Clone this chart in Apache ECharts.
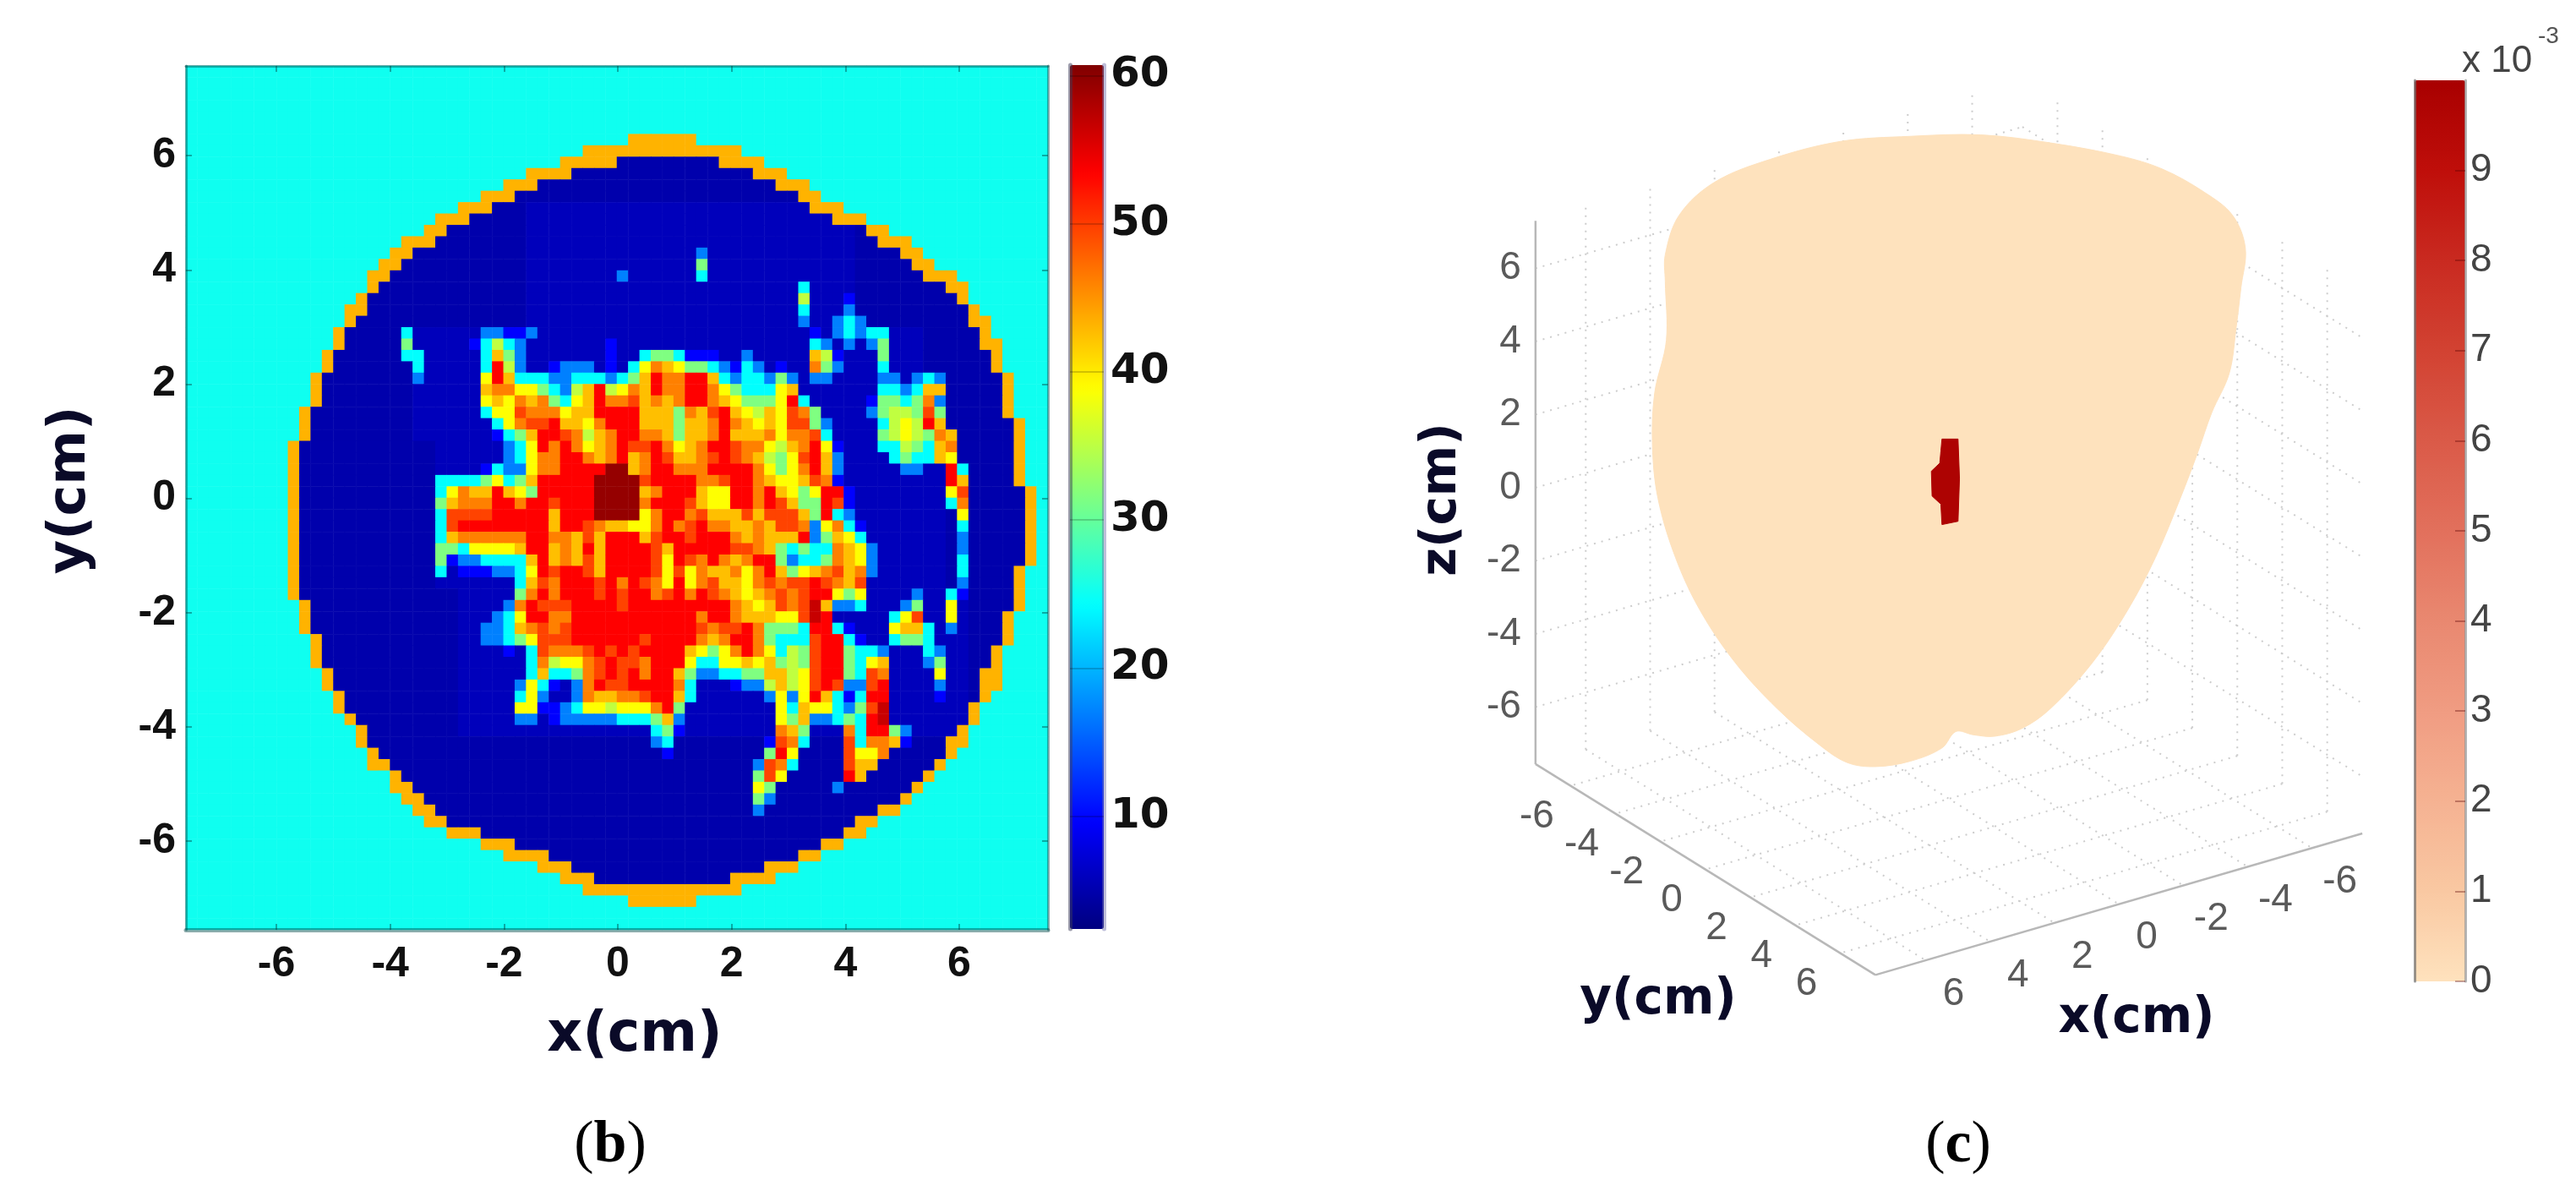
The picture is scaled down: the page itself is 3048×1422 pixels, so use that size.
<!DOCTYPE html>
<html>
<head>
<meta charset="utf-8">
<style>html,body{margin:0;padding:0;background:#fff}#c{width:3048px;height:1422px}</style>
<script src="https://cdn.jsdelivr.net/npm/echarts@6/dist/echarts.min.js"></script>
</head>
<body>
<div id="c"></div>
<script>
// ---------- panel (b): heat map ----------
const colCount = 76, rowCount = 76;
const levels = {'C':25.1,'A':43.2,'.':4.9,',':5.8,'b':9.7,'l':17,'c':24.3,'g':31.5,'n':35.2,'y':38.8,'a':42.5,'o':46.1,'f':49.6,'r':53.4,'k':56.6,'D':59.5};
// [row, fromCol, toCol, fromCol, toCol]: orange rim of the disc on each row
const ringRows = [[6,39,44],[7,35,48],[8,33,37,47,50],[9,30,33,50,52],[10,28,30,52,54],[11,26,28,54,55],[12,24,26,55,57],[13,22,24,57,59],[14,21,22,60,61],[15,19,21,61,63],[16,18,19,63,64],[17,17,18,64,65],[18,16,17,65,67],[19,16,16,67,68],[20,15,15,68,68],[21,14,15,69,69],[22,14,14,69,70],[23,13,13,70,70],[24,13,13,70,71],[25,12,12,71,71],[26,12,12,71,71],[27,11,11,72,72],[28,11,11,72,72],[29,11,11,72,72],[30,10,10,72,72],[31,10,10,73,73],[32,10,10,73,73],[33,9,9,73,73],[34,9,9,73,73],[35,9,9,73,73],[36,9,9,73,73],[37,9,9,74,74],[38,9,9,74,74],[39,9,9,74,74],[40,9,9,74,74],[41,9,9,74,74],[42,9,9,74,74],[43,9,9,74,74],[44,9,9,73,73],[45,9,9,73,73],[46,9,9,73,73],[47,10,10,73,73],[48,10,10,72,72],[49,10,10,72,72],[50,11,11,72,72],[51,11,11,71,71],[52,11,11,71,71],[53,12,12,70,71],[54,12,12,70,71],[55,13,13,70,70],[56,13,13,69,69],[57,14,14,69,69],[58,15,15,68,68],[59,15,15,67,68],[60,16,16,67,67],[61,16,17,66,66],[62,18,18,65,65],[63,18,19,64,64],[64,19,20,63,63],[65,20,21,61,62],[66,21,22,59,60],[67,23,25,58,59],[68,26,28,56,57],[69,28,31,54,55],[70,31,33,51,53],[71,33,35,48,51],[72,35,48],[73,39,44]];
// [fromRow, toRow, fromCol, toCol]: slightly brighter blue in the middle of the disc
const glowBands = [[12,22,30,58],[23,32,20,64],[33,45,22,66],[46,58,24,68]];
// row: [[startCol, cells], ...]
const hotRows = {
16:[[45,"l"]],
17:[[45,"g"]],
18:[[38,"l"],[45,"c"]],
19:[[54,"c"]],
20:[[54,"n"],[58,"b"]],
21:[[54,"c"],[58,"l"]],
22:[[54,"l"],[57,"lcl"]],
23:[[19,"c"],[26,"llbbl"],[55,"b"],[57,"lclcc"]],
24:[[19,"g"],[25,"bcncl"],[37,"b"],[55,"cl"],[58,"l"],[60,"lg"]],
25:[[19,"cc"],[26,"cagl"],[37,"b"],[40,"cggcbbb"],[49,"l"],[55,"anb"],[61,"g"]],
26:[[20,"c"],[26,"crnl"],[32,"blll"],[37,"b"],[39,"cyoay"],[44,"ggclbcl"],[52,"b"],[55,"ogl"],[61,"c"]],
27:[[20,"l"],[26,"yracccllcccl"],[38,"cgaroo"],[44,"rraclcclgl"],[55,"ll"],[61,"ll"],[64,"lcl"]],
28:[[26,"aooyygclnarnyoaroo"],[44,"rroygcccya"],[61,"ccl"],[64,"caa"]],
29:[[26,"yayoaogcyaroofaoao"],[44,"rroaygggyrc"],[60,"bggcgol"]],
30:[[26,"cyyfoooyaarrrraaag"],[44,"oafraynayfog"],[60,"lgnngfg"]],
31:[[26,",cyoffraayorrraaag"],[44,"aaoroayayffgl"],[61,"cnynra"]],
32:[[27,"bcgarrfonaorrooag"],[44,"aaoraaaoyoofc"],[61,"gnyngoa"]],
33:[[28,"lcyroroyaorffroy"],[44,"aorrfooynaoryb"],[61,"ccngcao"]],
34:[[28,"lcyoorroaoraorfa"],[44,"aofrfoangyfral"],[62,"cgc"],[65,"cay"]],
35:[[26,"bcllyoorrrrDDaorro"],[44,"oorrrroygyoral"],[63,"ll"],[67,"rc"]],
36:[[22,"ccccgycgarrrrrDDDDfrrr"],[44,"roofrroayyafob"],[67,"ra"]],
37:[[22,"cyoaaraygrrrrrDDDDaorr"],[44,"rayyrroraygyrrb"],[67,"yf"]],
38:[[22,"gaooorrorrfrrrDDDDorrr"],[44,"fayyrrorfaggrfb"],[67,"co"]],
39:[[22,"cffffrrrrrarrrDDDDyorr"],[44,"ofaaafafffagrcl"],[68,"y"]],
40:[[22,"cfrrrrrrrrarrfoaayyoro"],[44,"frooaaoaffolyocb"],[68,"c"]],
41:[[22,"caoooooorrooafarrrafrr"],[44,"frrroaoaaarlgayc"],[68,"l"]],
42:[[22,"ggcyyyyarraoararrrrfar"],[44,"rrrrffoagcgccoayl"],[68,"l"]],
43:[[22,"gbllccccaraoafarrrrfyr"],[44,"foroaorrglccgoayl"],[68,"c"]],
44:[[22,"c,bbbllcyrfrrfarrrrfyf"],[44,"yoaaoyoragyaofaol"],[68,"c"]],
45:[[29,"caforrrfrorfoyr"],[44,"yofaayofoffrfoaf"],[68,"l"]],
46:[[29,"gororrrfrfrrofr"],[44,"orfoayaofofrrygy"],[64,"l"],[67,"cb"]],
47:[[28,"lorfffrrrrfrrrrr"],[44,"rrrroayafofkallc"],[63,"lg"],[67,"y"]],
48:[[27,"lcyrroorrrrrrrrrr"],[44,"rorroaaayyfkr"],[62,"cyf"],[67,"y"]],
49:[[26,"llcaofofrrrrrrrrrr"],[44,"rfoffrogggcrrcb"],[62,"yaac"],[67,"l"]],
50:[[26,"llcgyfffrrrrrrfrrr"],[44,"roaorrogcccfrrcb"],[62,"cggc"]],
51:[[28,"b,cfooofrfrfrrrr"],[44,"aygyoroycngfrrgccl"],[65,"cl"]],
52:[[30,"conyyofrfforrr"],[44,"yccyyayagngfrrgcya"],[65,"lg"]],
53:[[30,"caccgofrfrorra"],[44,"gllccggaanyfrrgcfo"],[66,"y"]],
54:[[29,"lycb,lorffrrrro"],[44,"c,,,bllnanyfrfllfr"],[66,"l"]],
55:[[29,"cyl,,loaaoofrra"],[44,"c,,,,,,lylyracbcrr"],[66,"b"]],
56:[[29,"yybblcyynyyyorg"],[52,"ycayyclgfk"]],
57:[[29,"ll,blllllcccgal"],[52,"ygallcgcrk"]],
58:[[41,"cgb"],[52,"oag"],[58,"ocrrgl"]],
59:[[41,"lc"],[51,"bfoc"],[58,"fcooab"]],
60:[[42,"b"],[51,"gry"],[58,"fyyo"]],
61:[[50,"lfoc"],[58,"faa"]],
62:[[50,"gfy"],[58,"ra"]],
63:[[50,"yg"],[57,"l"]],
64:[[50,"gl"]],
65:[[50,"l"]]
};
const tickCm = [-6,-4,-2,0,2,4,6];
const heatRange = [2.4, 60.7];
const heatBarTicks = [10,20,30,40,50,60];
const jetColors = ['#000080','#0000ff','#0080ff','#00ffff','#80ff80','#ffff00','#ff8000','#ff0000','#800000'];

// ---------- panel (c): silhouette as seen in the view plane (cm) ----------
const bodyU = [0.86,2.78,4.70,5.85,6.99,7.76,8.11,7.99,7.86,7.67,7.19,6.81,6.33,5.65,4.89,3.93,2.78,2.01,1.25,0.67,0.19,-0.19,-1.05,-2.01,-2.78,-3.55,-4.70,-5.85,-6.81,-7.48,-7.96,-8.11,-8.05,-7.73,-7.76,-7.76,-7.38,-6.42,-4.89,-2.97,-1.06];
const bodyV = [10.60,10.38,10.02,9.66,9.03,8.40,7.50,6.42,5.34,4.08,3.00,1.92,0.66,-0.96,-2.40,-3.83,-5.09,-5.63,-5.85,-5.81,-5.72,-6.17,-6.53,-6.68,-6.57,-6.08,-5.09,-3.83,-2.40,-0.96,0.66,2.10,3.54,4.98,6.60,7.32,8.40,9.30,9.93,10.42,10.56];
const spotU = [-0.19,0.25,0.29,0.25,-0.19,-0.22,-0.46,-0.48,-0.25,-0.22];
const spotV = [2.28,2.28,1.20,0.03,-0.06,0.50,0.72,1.40,1.62,1.95];
const shapeValues = [0, 9.8];
const boxMin = -7.56, boxMax = 7.56, boxTop = 7.3;
const doseTicks = [0,1,2,3,4,5,6,7,8,9];
const doseColors = ['#FEE2BD','#F9C8A2','#F5B292','#F09C82','#E98870','#E2705C','#DA5A48','#D24232','#C92A20','#BF0E0A','#A80000'];

// ---------- build heat map cells ----------
const cells = [];
for (let r = 0; r < rowCount; r++) cells.push(new Array(colCount).fill('C'));
ringRows.forEach(s => {
  const r = s[0];
  for (let c = s[1]; c <= s[2]; c++) cells[r][c] = 'A';
  if (s.length > 3) {
    for (let c = s[2] + 1; c < s[3]; c++) cells[r][c] = '.';
    for (let c = s[3]; c <= s[4]; c++) cells[r][c] = 'A';
  }
});
glowBands.forEach(b => {
  for (let r = b[0]; r <= b[1]; r++) for (let c = b[2]; c <= b[3]; c++) if (cells[r][c] === '.') cells[r][c] = ',';
});
Object.keys(hotRows).forEach(k => {
  hotRows[k].forEach(seg => {
    for (let i = 0; i < seg[1].length; i++) cells[+k][seg[0] + i] = seg[1][i];
  });
});
const heatData = [];
cells.forEach((row, r) => row.forEach((ch, c) => heatData.push([c, r, levels[ch]])));
const catX = Array.from({length: colCount}, (_, i) => i);
const catY = Array.from({length: rowCount}, (_, i) => i);

// ---------- view projection for the 3D box ----------
const project = (x, y, z) => [-0.881 * x + 0.615 * y, z - 0.256 * x - 0.3815 * y];
const gridLines3d = [];
tickCm.forEach(t => {
  gridLines3d.push([t, boxMin, boxMin, t, boxMax, boxMin]);   // floor, constant x
  gridLines3d.push([boxMin, t, boxMin, boxMax, t, boxMin]);   // floor, constant y
  gridLines3d.push([t, boxMin, boxMin, t, boxMin, boxTop]);   // wall y=min, vertical
  gridLines3d.push([boxMin, t, boxMin, boxMin, t, boxTop]);   // wall x=min, vertical
  gridLines3d.push([boxMax, boxMin, t, boxMin, boxMin, t]);   // wall y=min, horizontal
  gridLines3d.push([boxMin, boxMin, t, boxMin, boxMax, t]);   // wall x=min, horizontal
});
const edgeLines3d = [
  [boxMax, boxMin, boxMin, boxMax, boxMax, boxMin],
  [boxMax, boxMax, boxMin, boxMin, boxMax, boxMin],
  [boxMax, boxMin, boxMin, boxMax, boxMin, boxTop]
];
const lineItem = (style) => (params, api) => {
  const a = api.coord(project(api.value(0), api.value(1), api.value(2)));
  const b = api.coord(project(api.value(3), api.value(4), api.value(5)));
  return {type:'line', shape:{x1:a[0], y1:a[1], x2:b[0], y2:b[1]}, style};
};
const tickLabels3d = [];
tickCm.forEach(t => {
  tickLabels3d.push([boxMax, boxMin, t, t, -17, 0, 'right']);
  tickLabels3d.push([boxMax, t, boxMin, t, -40, 37, 'center']);
  tickLabels3d.push([t, boxMax, boxMin, t, 33, 40, 'center']);
});
const grid3dAxis = {gridIndex:3, type:'value', show:false};

const labelText = (text, x, y, size, rotation) => ({
  type:'text', x, y, rotation: rotation || 0, z: 20,
  style:{text, font:'bold ' + size + 'px "DejaVu Sans"', fill:'#0a0a28', align:'center', verticalAlign:'middle',
         shadowColor:'#e07800', shadowOffsetX:-2, shadowOffsetY:0, shadowBlur:1}
});
const panelLetter = (letter, x, y) => ({
  type:'text', x, y, z:20,
  style:{text:'{p|(}{b|' + letter + '}{p|)}', align:'center', verticalAlign:'middle',
    rich:{p:{font:'70px "Liberation Serif"', fill:'#000'}, b:{font:'bold 70px "Liberation Serif"', fill:'#000'}}}
});
const plotEdge = 'rgba(0,70,70,0.45)';
const tickEdge = {show:true, inside:true, length:7, lineStyle:{color:plotEdge, width:2}, customValues:tickCm};
const boldTick = {fontFamily:'"Liberation Sans"', fontWeight:'bold', fontSize:50, color:'#111'};

const option = {
  animation:false,
  backgroundColor:'#ffffff',
  grid:[
    {left:220, top:78, width:1020, height:1022},
    {left:220, top:78, width:1020, height:1022},
    {left:1266, top:77, width:40, height:1022},
    {left:1700.5, top:99, width:1211, height:1081.25},
    {left:2857, top:95, width:60, height:1066}
  ],
  xAxis:[
    {gridIndex:0, type:'category', data:catX, show:false},
    {gridIndex:1, type:'value', min:-7.59, max:7.56, position:'bottom', z:10,
      splitLine:{show:false}, axisLine:{show:true, onZero:false, lineStyle:{color:plotEdge, width:5}},
      axisTick:tickEdge, axisLabel:Object.assign({margin:16, customValues:tickCm}, boldTick)},
    {gridIndex:1, type:'value', min:-7.59, max:7.56, position:'top', z:10,
      splitLine:{show:false}, axisLine:{show:true, onZero:false, lineStyle:{color:plotEdge, width:3}},
      axisTick:tickEdge, axisLabel:{show:false}},
    {gridIndex:2, type:'value', show:false, min:0, max:1},
    Object.assign({}, grid3dAxis, {min:-14, max:14}),
    {gridIndex:4, type:'value', show:false, min:0, max:1}
  ],
  yAxis:[
    {gridIndex:0, type:'category', data:catY, inverse:true, show:false},
    {gridIndex:1, type:'value', min:-7.55, max:7.57, position:'left', z:10,
      splitLine:{show:false}, axisLine:{show:true, onZero:false, lineStyle:{color:plotEdge, width:3}},
      axisTick:tickEdge, axisLabel:Object.assign({margin:12, customValues:tickCm}, boldTick)},
    {gridIndex:1, type:'value', min:-7.55, max:7.57, position:'right', z:10,
      splitLine:{show:false}, axisLine:{show:true, onZero:false, lineStyle:{color:plotEdge, width:3}},
      axisTick:tickEdge, axisLabel:{show:false}},
    {gridIndex:2, type:'value', min:heatRange[0], max:heatRange[1], position:'right', z:10,
      splitLine:{show:false}, axisLine:{show:true, onZero:false, lineStyle:{color:'rgba(110,110,170,0.45)', width:5}},
      axisTick:{show:true, inside:true, length:40, lineStyle:{color:'rgba(0,0,0,0.18)', width:2}, customValues:heatBarTicks},
      axisLabel:{margin:8, customValues:heatBarTicks, fontFamily:'"DejaVu Sans"', fontWeight:'bold', fontSize:50, color:'#111'}},
    {gridIndex:2, type:'value', min:heatRange[0], max:heatRange[1], position:'left', z:10,
      splitLine:{show:false}, axisLine:{show:true, onZero:false, lineStyle:{color:'rgba(60,60,90,0.5)', width:5}},
      axisTick:{show:false}, axisLabel:{show:false}},
    Object.assign({}, grid3dAxis, {min:-13, max:12}),
    {gridIndex:4, type:'value', min:0, max:10, interval:1, position:'right', z:10,
      splitLine:{show:false}, axisLine:{show:true, onZero:false, lineStyle:{color:'rgba(150,150,150,0.7)', width:3}},
      axisTick:{show:true, inside:true, length:12, lineStyle:{color:'rgba(90,0,0,0.35)', width:2}, customValues:doseTicks},
      axisLabel:{margin:6, customValues:doseTicks, fontFamily:'"Liberation Sans"', fontSize:46, color:'#444'}},
    {gridIndex:4, type:'value', min:0, max:10, interval:1, position:'left', z:10,
      splitLine:{show:false}, axisLine:{show:true, onZero:false, lineStyle:{color:'rgba(110,110,110,0.7)', width:3}},
      axisTick:{show:false}, axisLabel:{show:false}}
  ],
  visualMap:[
    {type:'continuous', seriesIndex:0, dimension:2, min:heatRange[0], max:heatRange[1],
      left:1266, top:77, itemWidth:40, itemHeight:1022, padding:0, text:null, calculable:false, hoverLink:false,
      inRange:{color:jetColors}, showLabel:false},
    {type:'continuous', seriesIndex:3, dimension:1, min:0, max:10,
      left:2857, top:95, itemWidth:60, itemHeight:1066, padding:0, text:null, calculable:false, hoverLink:false,
      inRange:{color:doseColors}, showLabel:false}
  ],
  series:[
    {type:'heatmap', xAxisIndex:0, yAxisIndex:0, data:heatData, progressive:0, emphasis:{disabled:true}, silent:true,
      itemStyle:{borderWidth:0}},
    {type:'custom', coordinateSystem:'cartesian2d', xAxisIndex:4, yAxisIndex:5, silent:true, clip:false, z:1,
      data:gridLines3d, encode:{x:0, y:1},
      renderItem:lineItem({stroke:'#cdcdcd', lineWidth:2, lineDash:[2,7], fill:null})},
    {type:'custom', coordinateSystem:'cartesian2d', xAxisIndex:4, yAxisIndex:5, silent:true, clip:false, z:1,
      data:edgeLines3d, encode:{x:0, y:1},
      renderItem:lineItem({stroke:'#b8b8b8', lineWidth:2.5, fill:null})},
    {type:'custom', coordinateSystem:'cartesian2d', xAxisIndex:4, yAxisIndex:5, silent:true, clip:false, z:3,
      data:shapeValues.map((v, i) => [i, v]), encode:{x:0, y:1},
      renderItem:(params, api) => {
        const isBody = api.value(0) === 0;
        const us = isBody ? bodyU : spotU;
        const vs = isBody ? bodyV : spotV;
        const pts = us.map((u, i) => api.coord([u, vs[i]]));
        const color = api.visual('color');
        return {type:'polygon', shape:{points:pts, smooth:isBody ? 0.35 : 0}, style:{fill:color, stroke:color, lineWidth:1}};
      }},
    {type:'custom', coordinateSystem:'cartesian2d', xAxisIndex:4, yAxisIndex:5, silent:true, clip:false, z:4,
      data:tickLabels3d, encode:{x:0, y:1},
      renderItem:(params, api) => {
        const d = tickLabels3d[params.dataIndex];
        const p = api.coord(project(d[0], d[1], d[2]));
        return {type:'text', style:{text:String(d[3]), x:p[0] + d[4], y:p[1] + d[5],
          font:'46px "Liberation Sans"', fill:'#5a5a5a', align:d[6], verticalAlign:'middle'}};
      }}
  ],
  graphic:[
    labelText('x(cm)', 751, 1226, 65),
    labelText('y(cm)', 84, 580, 62, Math.PI / 2),
    labelText('x(cm)', 2528, 1206, 58),
    labelText('y(cm)', 1962, 1184, 58),
    labelText('z(cm)', 1707, 591, 58, Math.PI / 2),
    panelLetter('b', 722, 1356),
    panelLetter('c', 2317, 1356),
    {type:'text', x:2913, y:73, z:20, style:{text:'x 10', font:'44px "Liberation Sans"', fill:'#444', align:'left', verticalAlign:'middle'}},
    {type:'text', x:3003, y:43, z:20, style:{text:'-3', font:'28px "Liberation Sans"', fill:'#555', align:'left', verticalAlign:'middle'}}
  ]
};
const chart = echarts.init(document.getElementById('c'), null, {renderer:'canvas', width:3048, height:1422});
chart.setOption(option);
</script>
</body>
</html>
